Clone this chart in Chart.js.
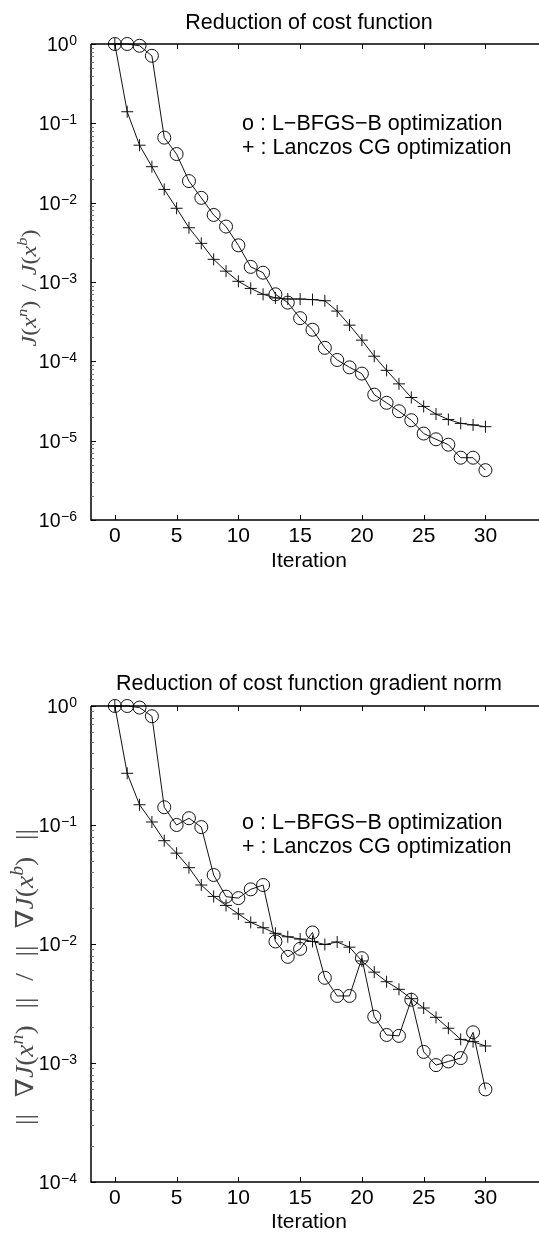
<!DOCTYPE html>
<html><head><meta charset="utf-8">
<script src="https://cdn.jsdelivr.net/npm/chart.js@4.4.1/dist/chart.umd.min.js"></script>
<style>
html,body{margin:0;padding:0;background:#fff;overflow:hidden;width:539px;height:1233px}
canvas{position:absolute;left:0}
#c1{top:0}
#c2{top:600px}
</style></head>
<body>
<canvas id="c1" width="539" height="600"></canvas>
<canvas id="c2" width="539" height="633"></canvas>
<script>
// ---- data ----
const iterations = [0,1,2,3,4,5,6,7,8,9,10,11,12,13,14,15,16,17,18,19,20,21,22,23,24,25,26,27,28,29,30];
const costLBFGS = [1.0,1.0,0.95,0.71,0.066,0.041,0.0187,0.0115,0.0070,0.0050,0.0029,0.00155,0.00131,0.00070,0.00055,0.00035,0.00025,0.000148,0.000104,0.000084,0.000070,0.000038,0.000030,0.0000235,0.0000181,0.0000123,0.0000104,0.0000089,0.0000061,0.0000061,0.00000425];
const costLanczos = [1.0,0.14,0.053,0.0284,0.0147,0.0085,0.00483,0.00307,0.00193,0.00137,0.00102,0.00083,0.00070,0.00063,0.00061,0.00061,0.00060,0.00058,0.00043,0.000286,0.000185,0.000116,0.000077,0.000052,0.000035,0.000027,0.0000216,0.0000185,0.0000165,0.0000158,0.000015];
const gradLBFGS = [1.0,1.0,0.97,0.82,0.141,0.100,0.114,0.096,0.038,0.025,0.0243,0.0288,0.0313,0.0105,0.0078,0.0091,0.0125,0.0052,0.00366,0.00366,0.0076,0.00245,0.00172,0.00169,0.0034,0.00124,0.00096,0.00103,0.0011,0.00181,0.0006];
const gradLanczos = [1.0,0.272,0.148,0.106,0.0738,0.058,0.0438,0.0313,0.0251,0.0211,0.0179,0.0152,0.0137,0.0123,0.0115,0.0110,0.0105,0.0099,0.0104,0.0094,0.0072,0.0058,0.00482,0.00416,0.00347,0.0029,0.00242,0.00196,0.00158,0.00151,0.00139];

const xTicks = [0,5,10,15,20,25,30];
const xTickLabels = ['0','5','10','15','20','25','30'];
const yTicksCost = [1,1e-1,1e-2,1e-3,1e-4,1e-5,1e-6];
const yTickExpCost = ['0','\u22121','\u22122','\u22123','\u22124','\u22125','\u22126'];
const yTicksGrad = [1,1e-1,1e-2,1e-3,1e-4];
const yTickExpGrad = ['0','\u22121','\u22122','\u22123','\u22124'];
const seriesNames = ['o : L\u2212BFGS\u2212B optimization', '+ : Lanczos CG optimization'];
const chartTitles = ['Reduction of cost function', 'Reduction of cost function gradient norm'];
const xAxisTitle = 'Iteration';
const yTitleCost = [{t:'J',it:1},{t:'(',it:0},{t:'x',it:1},{t:'n',it:1,sup:1},{t:')',it:0},{gap:1},{t:'/',it:0},{gap:1},{t:'J',it:1},{t:'(',it:0},{t:'x',it:1},{t:'b',it:1,sup:1},{t:')',it:0}];
const yTitleGrad = [{t:'||',it:0},{gap:1},{t:'\u2207',it:0},{t:'J',it:1},{t:'(',it:0},{t:'x',it:1},{t:'n',it:1,sup:1},{t:')',it:0},{gap:1},{t:'||',it:0},{gap:1},{t:'/',it:0},{gap:1},{t:'||',it:0},{gap:1},{t:'\u2207',it:0},{t:'J',it:1},{t:'(',it:0},{t:'x',it:1},{t:'b',it:1,sup:1},{t:')',it:0},{gap:1},{t:'||',it:0}];

const SANS = '"Liberation Sans", Arial, Helvetica, sans-serif';
const SERIF = '"Liberation Serif", "DejaVu Serif", serif';

function drawRich(ctx, segs, cx, cy, size, stretch, totalLen, color){
  ctx.save();
  const supSize = Math.round(size*0.7);
  const fontOf = s => (s.it ? 'italic ' : '') + (s.sup ? supSize : size) + 'px ' + SERIF;
  let W = 0, nGaps = 0;
  const widths = segs.map(s => {
    if (s.gap) { nGaps++; return 0; }
    ctx.font = fontOf(s); const w = ctx.measureText(s.t).width * stretch; W += w; return w;
  });
  const gapW = nGaps ? Math.max(2, (totalLen - W) / nGaps) : 0;
  const total = W + gapW * nGaps;
  ctx.translate(cx, cy);
  ctx.rotate(-Math.PI/2);
  ctx.fillStyle = color;
  ctx.textBaseline = 'alphabetic';
  ctx.textAlign = 'left';
  let x = -total/2;
  const base = size*0.33;
  segs.forEach((s,i) => {
    if (s.gap) { x += gapW; return; }
    ctx.font = fontOf(s);
    ctx.save();
    ctx.translate(x, s.sup ? base - size*0.42 : base);
    ctx.scale(stretch, 1);
    ctx.fillText(s.t, 0, 0);
    ctx.restore();
    x += widths[i];
  });
  ctx.restore();
}

function makeChart(id, cfg){
  const deco = {
    id: 'deco',
    afterDraw(chart){
      const ctx = chart.ctx, ca = chart.chartArea, xs = chart.scales.x, ys = chart.scales.y;
      ctx.save();
      ctx.strokeStyle = '#000';
      ctx.lineWidth = 1.5;
      ctx.beginPath();
      ctx.moveTo(ca.left, ca.top); ctx.lineTo(ca.left, ca.bottom); ctx.lineTo(chart.width, ca.bottom);
      ctx.moveTo(ca.left, ca.top); ctx.lineTo(chart.width, ca.top);
      ctx.stroke();
      ctx.lineWidth = 1;
      ctx.beginPath();
      xTicks.forEach(v => {
        const px = Math.round(xs.getPixelForValue(v)) + 0.5;
        ctx.moveTo(px, ca.bottom); ctx.lineTo(px, ca.bottom - 5);
        ctx.moveTo(px, ca.top); ctx.lineTo(px, ca.top + 5);
      });
      cfg.yTicks.forEach(v => {
        const py = Math.round(ys.getPixelForValue(v)) + 0.5;
        ctx.moveTo(ca.left, py); ctx.lineTo(ca.left + 5, py);
      });
      ctx.stroke();
      ctx.strokeStyle = '#777';
      ctx.beginPath();
      cfg.yTicks.forEach(v => {
        for (let m = 2; m <= 9; m++) {
          const val = v * m;
          if (val >= 1) continue;
          const py = Math.round(ys.getPixelForValue(val)) + 0.5;
          ctx.moveTo(ca.left, py); ctx.lineTo(ca.left + 3, py);
        }
      });
      ctx.stroke();
      // y tick labels: "10" with raised exponent
      ctx.fillStyle = '#000';
      ctx.textBaseline = 'alphabetic';
      ctx.textAlign = 'right';
      cfg.yTicks.forEach((v, i) => {
        const py = ys.getPixelForValue(v);
        const rx = ca.left - 14;
        ctx.font = '14px ' + SANS;
        const ew = ctx.measureText(cfg.yExp[i]).width;
        ctx.fillText(cfg.yExp[i], rx, py + 1);
        ctx.font = '19.5px ' + SANS;
        ctx.fillText('10', rx - ew - 0.5, py + 7);
      });
      // titles
      ctx.textAlign = 'center';
      ctx.textBaseline = 'middle';
      ctx.font = '21.5px ' + SANS;
      ctx.fillText(cfg.title, 309, cfg.titleY);
      ctx.font = '21px ' + SANS;
      ctx.fillText(xAxisTitle, 309, cfg.xTitleY);
      // legend text
      ctx.textAlign = 'left';
      ctx.font = '21.5px ' + SANS;
      ctx.fillText(seriesNames[0], 242, cfg.legY);
      ctx.fillText(seriesNames[1], 242, cfg.legY + 24);
      ctx.restore();
      drawRich(ctx, cfg.ySegs, cfg.yTitleX, cfg.yTitleY, cfg.yTitleSize, cfg.yStretch, cfg.yTitleLen, '#4a4a4a');
    }
  };
  const mk = (vals, style, r) => ({
    data: iterations.map((x,i) => ({x, y: vals[i]})),
    borderColor: '#111', borderWidth: 1, tension: 0, clip: false,
    pointStyle: style, pointRadius: r, pointHoverRadius: r,
    pointBorderColor: '#111', pointBackgroundColor: 'rgba(0,0,0,0)', pointBorderWidth: 1
  });
  return new Chart(document.getElementById(id), {
    type: 'line',
    data: { datasets: [ mk(cfg.a, 'circle', 6.5), mk(cfg.b, 'cross', 6) ] },
    options: {
      responsive: false, animation: false, devicePixelRatio: 1,
      layout: { padding: { top: cfg.padTop, left: 0, right: 0, bottom: 0 } },
      plugins: { legend: { display: false }, title: { display: false }, tooltip: { enabled: false } },
      events: [],
      scales: {
        x: {
          type: 'linear', min: -1.93, max: 33.73,
          grid: { display: false, drawTicks: false }, border: { display: false },
          afterBuildTicks: s => { s.ticks = xTicks.map(v => ({ value: v })); },
          afterFit: s => { s.height = cfg.xH; },
          ticks: { font: { family: SANS, size: 21 }, color: '#000', padding: 4, maxRotation: 0, autoSkip: false,
                   callback: (v) => { const i = xTicks.indexOf(v); return i >= 0 ? xTickLabels[i] : ''; } }
        },
        y: {
          type: 'logarithmic', min: cfg.yMin, max: 1,
          grid: { display: false, drawTicks: false }, border: { display: false },
          afterBuildTicks: s => { s.ticks = cfg.yTicks.map(v => ({ value: v })); },
          afterFit: s => { s.width = 91; },
          ticks: { display: false }
        }
      }
    },
    plugins: [deco]
  });
}

makeChart('c1', { a: costLBFGS, b: costLanczos, yMin: 1e-6, yTicks: yTicksCost, yExp: yTickExpCost,
  padTop: 44, xH: 80, title: chartTitles[0], titleY: 23, xTitleY: 561, legY: 124.5,
  ySegs: yTitleCost, yTitleX: 29, yTitleY: 288, yTitleSize: 22, yStretch: 1.1, yTitleLen: 117 });
makeChart('c2', { a: gradLBFGS, b: gradLanczos, yMin: 1e-4, yTicks: yTicksGrad, yExp: yTickExpGrad,
  padTop: 106, xH: 51, title: chartTitles[1], titleY: 84.5, xTitleY: 622, legY: 223,
  ySegs: yTitleGrad, yTitleX: 25, yTitleY: 377, yTitleSize: 25, yStretch: 1.1, yTitleLen: 296 });
</script>
</body></html>
